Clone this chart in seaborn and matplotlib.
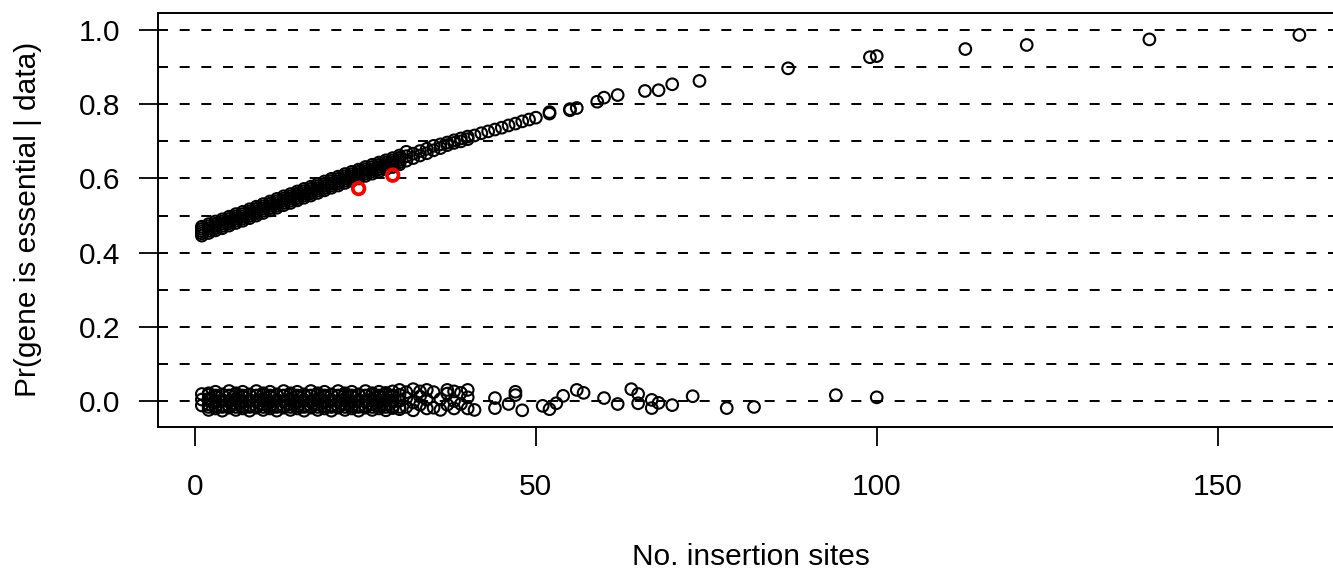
import numpy as np
import pandas as pd
import matplotlib
matplotlib.use("Agg")
import matplotlib.pyplot as plt
import seaborn as sns

# essential genes (upper curve)
ess_sites = [
    1, 1, 1, 2, 2, 2, 3, 3, 3, 4, 4, 4, 5, 5, 5, 6, 6, 6, 7, 7, 7, 8, 8, 8,
    9, 9, 9, 10, 10, 10, 11, 11, 11, 12, 12, 12, 13, 13, 13, 14, 14, 14,
    15, 15, 15, 16, 16, 16, 17, 17, 17, 18, 18, 18, 19, 19, 19, 20, 20, 20,
    21, 21, 21, 22, 22, 22, 23, 23, 23, 24, 24, 24, 25, 25, 25, 26, 26, 26,
    27, 27, 27, 28, 28, 28, 29, 29, 29, 30, 30, 30, 31, 31, 31,
    32, 32, 33, 33, 34, 34, 35, 35, 36, 36, 37, 37, 38, 38, 39, 39, 40, 40,
    41, 42, 43, 44, 45, 46, 47, 48, 49, 50, 52, 52,
    55, 55, 56, 59, 60, 62, 66, 68, 70, 74, 87, 99, 100, 113, 122, 140, 162,
]
ess_prob = [
    0.446, 0.458, 0.470, 0.453, 0.465, 0.477, 0.460, 0.472, 0.484,
    0.466, 0.478, 0.490, 0.473, 0.485, 0.497, 0.480, 0.492, 0.504,
    0.486, 0.498, 0.510, 0.493, 0.505, 0.517, 0.500, 0.512, 0.524,
    0.507, 0.519, 0.531, 0.514, 0.526, 0.538, 0.521, 0.533, 0.545,
    0.528, 0.540, 0.552, 0.534, 0.546, 0.558, 0.541, 0.553, 0.565,
    0.548, 0.560, 0.572, 0.554, 0.566, 0.578, 0.561, 0.573, 0.585,
    0.568, 0.580, 0.592, 0.575, 0.587, 0.599, 0.581, 0.593, 0.605,
    0.588, 0.600, 0.612, 0.594, 0.606, 0.618, 0.600, 0.612, 0.624,
    0.607, 0.619, 0.631, 0.613, 0.625, 0.637, 0.619, 0.631, 0.643,
    0.625, 0.637, 0.649, 0.631, 0.643, 0.655, 0.638, 0.650, 0.662,
    0.648, 0.660, 0.672,
    0.655, 0.667, 0.662, 0.674, 0.668, 0.680, 0.676, 0.688, 0.682, 0.692,
    0.690, 0.697, 0.696, 0.703, 0.700, 0.708, 0.706, 0.713,
    0.716, 0.722, 0.727, 0.732, 0.737, 0.743, 0.748, 0.754, 0.759, 0.764,
    0.775, 0.779,
    0.784, 0.787, 0.790, 0.807, 0.818, 0.825, 0.836, 0.838, 0.854,
    0.863, 0.897, 0.927, 0.930, 0.949, 0.960, 0.975, 0.987,
]
# more essential genes inside the dense part of the band
ess_sites_more = [
    1, 1, 2, 2, 3, 3, 4, 4, 5, 5, 6, 6, 7, 7, 8, 8, 9, 9, 10, 10,
    11, 11, 12, 12, 13, 13, 14, 14, 15, 15, 16, 16, 17, 17, 18, 18,
    19, 19, 20, 20, 21, 21, 22, 22, 23, 23, 24, 24, 25, 25, 26, 26,
    27, 27, 28, 28, 29, 29, 30, 30,
]
ess_prob_more = [
    0.452, 0.464, 0.459, 0.471, 0.466, 0.478, 0.472, 0.484, 0.479, 0.491,
    0.486, 0.498, 0.492, 0.504, 0.499, 0.511, 0.506, 0.518, 0.513, 0.525,
    0.520, 0.532, 0.527, 0.539, 0.534, 0.546, 0.540, 0.552, 0.547, 0.559,
    0.554, 0.566, 0.560, 0.572, 0.567, 0.579, 0.574, 0.586, 0.581, 0.593,
    0.587, 0.599, 0.594, 0.606, 0.600, 0.612, 0.606, 0.618, 0.613, 0.625,
    0.619, 0.631, 0.625, 0.637, 0.631, 0.643, 0.637, 0.649, 0.644, 0.656,
]

# non-essential genes (lower band)
non_sites = [
    1, 1, 1,
    2, 2, 2, 2, 3, 3, 3, 3, 4, 4, 4, 4, 5, 5, 5, 5, 6, 6, 6, 6,
    7, 7, 7, 7, 8, 8, 8, 8, 9, 9, 9, 9, 10, 10, 10, 10, 11, 11, 11, 11,
    12, 12, 12, 12, 13, 13, 13, 13, 14, 14, 14, 14, 15, 15, 15, 15,
    16, 16, 16, 16, 17, 17, 17, 17, 18, 18, 18, 18, 19, 19, 19, 19,
    20, 20, 20, 20, 21, 21, 21, 21, 22, 22, 22, 22, 23, 23, 23, 23,
    24, 24, 24, 24, 25, 25, 25, 25, 26, 26, 26, 26, 27, 27, 27, 27,
    28, 28, 28, 28, 29, 29, 29, 29,
    30, 30, 30, 31, 31, 31, 32, 32, 32, 33, 33, 33, 34, 34, 34,
    35, 35, 36, 36, 37, 37, 37, 38, 38, 38, 39, 39, 40, 40, 40,
    41, 44, 44, 46, 47, 47, 48, 51, 52, 53, 54, 56, 57, 60, 62,
    64, 65, 65, 67, 67, 68, 70, 73, 78, 82, 94, 100,
]
non_prob = [
    -0.012, 0.004, 0.019,
    -0.024, -0.009, 0.006, 0.021, -0.020, -0.004, 0.011, 0.025,
    -0.026, -0.012, 0.003, 0.018, -0.018, -0.002, 0.014, 0.027,
    -0.024, -0.009, 0.006, 0.021, -0.020, -0.004, 0.011, 0.025,
    -0.026, -0.012, 0.003, 0.018, -0.018, -0.002, 0.014, 0.027,
    -0.024, -0.009, 0.006, 0.021, -0.020, -0.004, 0.011, 0.025,
    -0.026, -0.012, 0.003, 0.018, -0.018, -0.002, 0.014, 0.027,
    -0.024, -0.009, 0.006, 0.021, -0.020, -0.004, 0.011, 0.025,
    -0.026, -0.012, 0.003, 0.018, -0.018, -0.002, 0.014, 0.027,
    -0.024, -0.009, 0.006, 0.021, -0.020, -0.004, 0.011, 0.025,
    -0.026, -0.012, 0.003, 0.018, -0.018, -0.002, 0.014, 0.027,
    -0.024, -0.009, 0.006, 0.021, -0.020, -0.004, 0.011, 0.025,
    -0.026, -0.012, 0.003, 0.018, -0.018, -0.002, 0.014, 0.027,
    -0.024, -0.009, 0.006, 0.021, -0.020, -0.004, 0.011, 0.025,
    -0.025, -0.010, 0.005, 0.022, -0.019, -0.003, 0.012, 0.026,
    -0.022, 0.002, 0.030, -0.016, 0.008, 0.024, -0.025, -0.004, 0.032,
    -0.010, 0.012, 0.026, -0.020, 0.004, 0.030,
    -0.018, 0.024, -0.024, 0.005, -0.010, 0.020, 0.030, -0.020, 0.000, 0.026,
    -0.008, 0.022, -0.020, 0.010, 0.030,
    -0.024, 0.008, -0.019, -0.008, 0.025, 0.016, -0.025, -0.013, -0.022,
    -0.006, 0.014, 0.030, 0.022, 0.008, -0.008,
    0.032, 0.019, -0.006, 0.003, -0.019, -0.005, -0.011, 0.013, -0.019,
    -0.016, 0.016, 0.010,
]
# more non-essential genes inside the dense part of the band
non_sites_more = [
    2, 2, 2, 3, 3, 3, 4, 4, 4, 5, 5, 5, 6, 6, 6, 7, 7, 7, 8, 8, 8,
    9, 9, 9, 10, 10, 10, 11, 11, 11, 12, 12, 12, 13, 13, 13, 14, 14, 14,
    15, 15, 15, 16, 16, 16, 17, 17, 17, 18, 18, 18, 19, 19, 19,
    20, 20, 20, 21, 21, 21, 22, 22, 22, 23, 23, 23, 24, 24, 24,
    25, 25, 25, 26, 26, 26, 27, 27, 27, 28, 28, 28, 29, 29, 29,
    30, 30, 30,
]
non_prob_more = [
    -0.016, 0.001, 0.017, -0.014, -0.001, 0.015, -0.016, 0.001, 0.017,
    -0.014, -0.001, 0.015, -0.016, 0.001, 0.017, -0.014, -0.001, 0.015,
    -0.016, 0.001, 0.017, -0.014, -0.001, 0.015, -0.016, 0.001, 0.017,
    -0.014, -0.001, 0.015, -0.016, 0.001, 0.017, -0.014, -0.001, 0.015,
    -0.016, 0.001, 0.017, -0.014, -0.001, 0.015, -0.016, 0.001, 0.017,
    -0.014, -0.001, 0.015, -0.016, 0.001, 0.017, -0.014, -0.001, 0.015,
    -0.016, 0.001, 0.017, -0.014, -0.001, 0.015, -0.016, 0.001, 0.017,
    -0.014, -0.001, 0.015, -0.016, 0.001, 0.017, -0.014, -0.001, 0.015,
    -0.016, 0.001, 0.017, -0.014, -0.001, 0.015, -0.016, 0.001, 0.017,
    -0.014, -0.001, 0.015, -0.016, 0.001, 0.017,
]

# two highlighted genes
crit_sites = [24, 29]
crit_prob = [0.573, 0.609]

ess = pd.DataFrame({"sites": ess_sites + ess_sites_more,
                    "prob": ess_prob + ess_prob_more})
non = pd.DataFrame({"sites": non_sites + non_sites_more,
                    "prob": non_prob + non_prob_more})
crit = pd.DataFrame({"sites": crit_sites, "prob": crit_prob})

sns.set_style("ticks")
plt.rcParams["font.family"] = ["Liberation Sans", "DejaVu Sans"]
plt.rcParams["lines.scale_dashes"] = False
plt.rcParams["axes.labelcolor"] = "black"
plt.rcParams["text.color"] = "black"

W, H = 1333, 573
fig = plt.figure(figsize=(W / 100, H / 100), dpi=100)
ax = fig.add_axes([158 / W, 146 / H, 1185 / W, 414.3 / H])

for lev in np.linspace(0, 1, 11):
    ax.axhline(lev, color="black", lw=1.4, linestyle=(0, (7.2, 8.4)), zorder=1)

sns.scatterplot(data=non, x="sites", y="prob", ax=ax, marker="o", s=70,
                facecolor="none", edgecolor="black", linewidth=1.5, zorder=3)
sns.scatterplot(data=ess, x="sites", y="prob", ax=ax, marker="o", s=70,
                facecolor="none", edgecolor="black", linewidth=1.5, zorder=3)
sns.scatterplot(data=crit, x="sites", y="prob", ax=ax, marker="o", s=70,
                facecolor="none", edgecolor="red", linewidth=2.7, zorder=4)

ax.set_xlim(-5.43, 168.4)
ax.set_ylim(-0.070, 1.047)
ax.set_xticks([0, 50, 100, 150])
ax.set_yticks([0.0, 0.2, 0.4, 0.6, 0.8, 1.0])
ax.set_yticklabels(["0.0", "0.2", "0.4", "0.6", "0.8", "1.0"])
ax.tick_params(axis="both", direction="out", length=14, width=1.3,
               labelsize=21.5, color="black", labelcolor="black")
ax.tick_params(axis="x", pad=19)
ax.tick_params(axis="y", pad=13)
for sp in ax.spines.values():
    sp.set_visible(True)
    sp.set_linewidth(1.4)
    sp.set_color("black")

ax.set_xlabel("No. insertion sites", fontsize=21.5, va="baseline", color="black")
ax.xaxis.set_label_coords(0.5, (8 - 146) / 414.3)
ax.set_ylabel("Pr(gene is essential | data)", fontsize=21.5, color="black")
ax.yaxis.set_label_coords((42 - 158) / 1185, 0.5)

fig.savefig("out.png", dpi=100)
